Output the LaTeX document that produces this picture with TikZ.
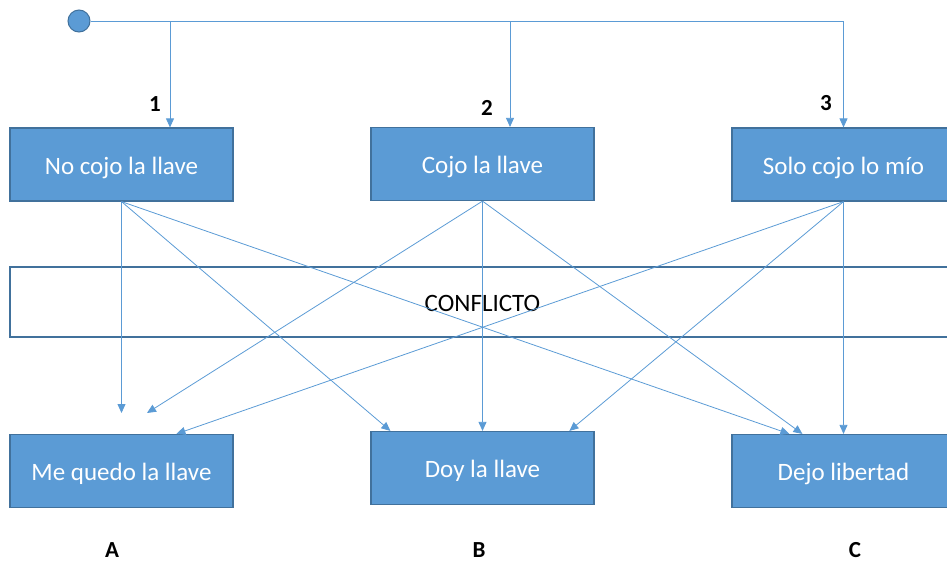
\documentclass[tikz,border=0pt]{standalone}
\usepackage{fontspec}
\setmainfont{Carlito}
\usetikzlibrary{positioning,arrows.meta}
\definecolor{boxblue}{RGB}{91,155,213}
\definecolor{boxedge}{RGB}{65,113,156}

\begin{document}
\begin{tikzpicture}[
    x=1pt, y=-1pt,
    choice/.style={rectangle, draw=boxedge, fill=boxblue, line width=1.2pt,
        minimum width=223pt, minimum height=73pt, inner sep=0pt,
        text height=19pt, text depth=0pt,
        text=white, font=\fontsize{25}{29}\selectfont},
    tag/.style={font=\bfseries\fontsize{23}{27}\selectfont},
    link/.style={boxblue, line width=0.8pt},
    arrow/.style={link, -{Triangle[length=9pt,width=8pt]}}
]
    \useasboundingbox (0,0) rectangle (947,563);

    % conflict band
    \node[draw=boxedge, line width=1.5pt, minimum width=945pt, minimum height=70pt,
        inner sep=0pt, text height=18pt, text depth=0pt,
        font=\fontsize{25}{29}\selectfont] (conf) at (482.5,302) {CONFLICTO};

    % choices
    \node[choice] (s1) at (121.5,164.5) {No cojo la llave};
    \node[choice] (s2) at (482.5,164) {Cojo la llave};
    \node[choice] (s3) at (843.5,164.5) {Solo cojo lo mío};

    % outcomes
    \node[choice] (oA) at (121.5,471) {Me quedo la llave};
    \node[choice] (oB) at (482.5,468) {Doy la llave};
    \node[choice] (oC) at (843.5,471) {Dejo libertad};

    \node[tag] (n1) at (155,104) {1};
    \node[tag] (n2) at (487,108) {2};
    \node[tag] (n3) at (826,103) {3};
    \node[tag] (lA) at (112,550) {A};
    \node[tag] (lB) at (479,550) {B};
    \node[tag] (lC) at (855,550) {C};

    % start and branches
    \node[circle, draw=boxedge, fill=boxblue, line width=1pt, minimum size=22pt, inner sep=0pt] (start) at (79,21) {};
    \coordinate (j1) at (170,21);
    \coordinate (j2) at (510,21);
    \coordinate (j3) at (843.5,21);
    \draw[link] (start) -- (j3);
    \draw[arrow] (j1) -- (j1 |- s1.north);
    \draw[arrow] (j2) -- (j2 |- s2.north);
    \draw[arrow] (j3) -- (s3.north);

    % free ends above A
    \coordinate (endA1) at (121.5,413);
    \coordinate (endA2) at (147,413);

    \draw[arrow] (s1.south) -- (endA1);
    \draw[arrow] (s1.south) -- ([xshift=20pt]oB.north west);
    \draw[arrow] (s1.south) -- ([xshift=58pt]oC.north west);

    \draw[arrow] (s2.south) -- (endA2);
    \draw[arrow] (s2.south) -- (oB.north);
    \draw[arrow] (s2.south) -- ([xshift=71pt]oC.north west);

    \draw[arrow] (s3.south) -- ([xshift=167pt]oA.north west);
    \draw[arrow] (s3.south) -- ([xshift=199pt]oB.north west);
    \draw[arrow] (s3.south) -- (oC.north);
\end{tikzpicture}
\end{document}
